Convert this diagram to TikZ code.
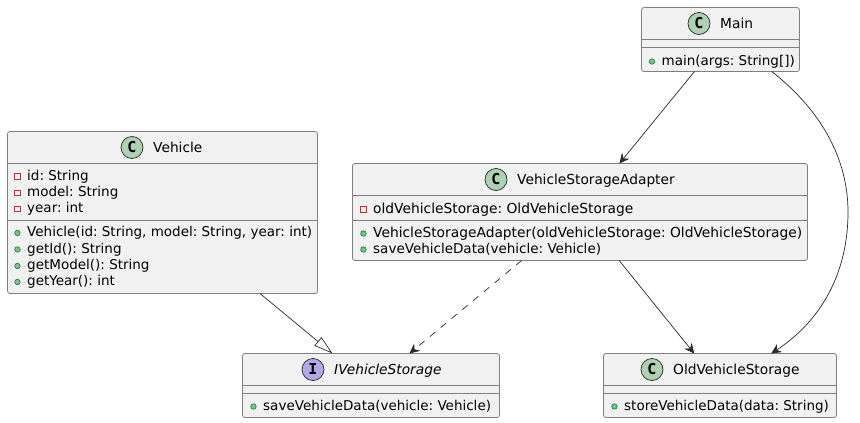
\documentclass[tikz,border=0pt]{standalone}
\usepackage{fontspec}
\setmainfont{DejaVu Sans}
\setmonofont{DejaVu Sans Mono}
\usetikzlibrary{arrows.meta}
\definecolor{boxfill}{HTML}{F1F1F1}
\definecolor{boxline}{HTML}{808080}
\definecolor{linkline}{HTML}{282828}
\definecolor{classicon}{HTML}{ADD1B2}
\definecolor{ifaceicon}{HTML}{B4A7E5}
\definecolor{pubfill}{HTML}{84BE84}
\definecolor{publine}{HTML}{038048}
\definecolor{privline}{HTML}{C82930}
\tikzstyle{classbox} = [rectangle, anchor=north west, rounded corners=2.5pt, inner sep=0pt, outer sep=0pt, draw=boxline, line width=0.8pt, fill=boxfill]
\tikzstyle{icon} = [circle, minimum size=22pt, inner sep=0pt, draw=linkline, line width=0.7pt, font=\ttfamily\bfseries\fontsize{15}{15}\selectfont]
\tikzstyle{title} = [anchor=base west, inner sep=0pt, text=black, font=\frenchspacing\fontsize{13.75}{16}\selectfont]
\tikzstyle{row} = [title, text height=10pt, text depth=3pt, font=\frenchspacing\fontsize{13.5}{16}\selectfont]
\tikzstyle{widerow} = [font=\frenchspacing\fontsize{13.8}{16}\selectfont]
\tikzstyle{pubrow} = [row, label={[circle, minimum size=5.5pt, inner sep=0pt, draw=publine, line width=0.6pt, fill=pubfill, xshift=-6.5pt]left:{}}]
\tikzstyle{privrow} = [row, label={[rectangle, minimum size=5.5pt, inner sep=0pt, draw=privline, line width=0.7pt, xshift=-6.5pt]left:{}}]
\tikzstyle{sep} = [draw=boxline, line width=0.8pt]
\tikzstyle{arrow} = [draw=linkline, line width=0.7pt, -{Stealth[length=10pt, width=9.5pt, inset=3.5pt]}]
\tikzstyle{realize} = [draw=linkline, line width=0.7pt, -{Triangle[open, length=19pt, width=11pt]}]

\begin{document}
\begin{tikzpicture}[x=1pt, y=-1pt]
    \useasboundingbox (0,0) rectangle (860,423);

    \node[classbox, minimum width=158pt, minimum height=64pt] (main) at (641.5,7.5) {};
    \draw[sep] (main.west |- 0,39.5) -- (main.east |- 0,39.5);
    \draw[sep] (main.west |- 0,47.5) -- (main.east |- 0,47.5);
    \node[icon, fill=classicon] (mainicon) at (699,23.5) {C};
    \node[title] (maintitle) at (720,28.5) {Main};
    \node[pubrow] (mainfn) at (661.5,65) {main(args: String[])};

    \node[classbox, minimum width=310pt, minimum height=162pt] (vehicle) at (7.5,131.5) {};
    \draw[sep] (vehicle.west |- 0,163.5) -- (vehicle.east |- 0,163.5);
    \draw[sep] (vehicle.west |- 0,220) -- (vehicle.east |- 0,220);
    \node[icon, fill=classicon] (vehicleicon) at (132,147.5) {C};
    \node[title] (vehicletitle) at (153,152.5) {Vehicle};
    \node[privrow] (vehicleid) at (27,180) {id: String};
    \node[privrow] (vehiclemodel) at (27,196.5) {model: String};
    \node[privrow] (vehicleyear) at (27,212.5) {year: int};
    \node[pubrow] (vehiclector) at (27,236.5) {Vehicle(id: String, model: String, year: int)};
    \node[pubrow] (vehiclegetid) at (27,253) {getId(): String};
    \node[pubrow] (vehiclegetmodel) at (27,269.5) {getModel(): String};
    \node[pubrow] (vehiclegetyear) at (27,285.5) {getYear(): int};

    \node[classbox, minimum width=455pt, minimum height=97pt] (adapter) at (352.5,163.5) {};
    \draw[sep] (adapter.west |- 0,195.5) -- (adapter.east |- 0,195.5);
    \draw[sep] (adapter.west |- 0,220.5) -- (adapter.east |- 0,220.5);
    \node[icon, fill=classicon] (adaptericon) at (496,179.5) {C};
    \node[title] (adaptertitle) at (517,184.5) {VehicleStorageAdapter};
    \node[privrow, widerow] (adapterfield) at (373,213) {oldVehicleStorage: OldVehicleStorage};
    \node[pubrow, widerow] (adapterctor) at (373,237) {VehicleStorageAdapter(oldVehicleStorage: OldVehicleStorage)};
    \node[pubrow] (adaptersave) at (373,253) {saveVehicleData(vehicle: Vehicle)};

    \node[classbox, minimum width=257pt, minimum height=64pt] (ivehicle) at (242.5,353.5) {};
    \draw[sep] (ivehicle.west |- 0,385.5) -- (ivehicle.east |- 0,385.5);
    \draw[sep] (ivehicle.west |- 0,393.5) -- (ivehicle.east |- 0,393.5);
    \node[icon, fill=ifaceicon] (ivehicleicon) at (313,369.5) {I};
    \node[title, font=\itshape\frenchspacing\fontsize{13.75}{16}\selectfont] (ivehicletitle) at (334,374.5) {IVehicleStorage};
    \node[pubrow] (ivehiclesave) at (263,410) {saveVehicleData(vehicle: Vehicle)};

    \node[classbox, minimum width=233pt, minimum height=64pt] (oldstorage) at (603.5,353.5) {};
    \draw[sep] (oldstorage.west |- 0,385.5) -- (oldstorage.east |- 0,385.5);
    \draw[sep] (oldstorage.west |- 0,393.5) -- (oldstorage.east |- 0,393.5);
    \node[icon, fill=classicon] (oldstorageicon) at (652,369.5) {C};
    \node[title] (oldstoragetitle) at (673,374.5) {OldVehicleStorage};
    \node[pubrow] (oldstoragefn) at (624,410) {storeVehicleData(data: String)};

    \draw[arrow] (main) -- (adapter);
    \draw[arrow] (main.-32) .. controls (812,103) and (848,150) .. (848,212) .. controls (848,280) and (815,325) .. (oldstorage.32);
    \draw[realize] (vehicle) -- (ivehicle);
    \draw[arrow, dash pattern=on 7pt off 7pt] (adapter) -- (ivehicle);
    \draw[arrow] (adapter) -- (oldstorage);
\end{tikzpicture}
\end{document}
